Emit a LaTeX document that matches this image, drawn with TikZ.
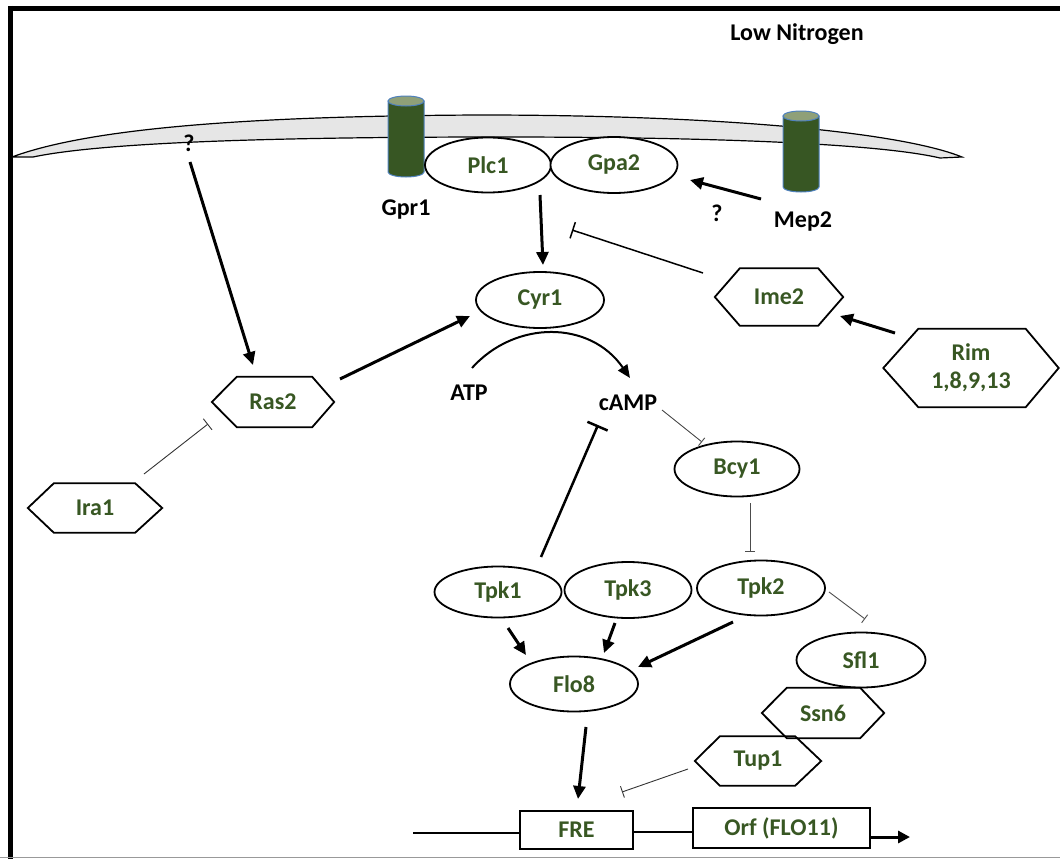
\documentclass[tikz,border=0pt]{standalone}
\usepackage{fontspec}
\setmainfont{Carlito}
\usetikzlibrary{shapes.geometric,arrows.meta,calc}
\definecolor{lbl}{RGB}{56,87,35}
\definecolor{cylg}{RGB}{55,86,35}
\definecolor{cyltop}{RGB}{143,160,120}
\definecolor{cylout}{RGB}{79,129,189}
\definecolor{memb}{RGB}{230,230,230}
\newcommand\hexshape[3]{\draw[hexline] (#1.west) -- ([xshift=#2]#1.north west) -- ([xshift=-#3]#1.north east) -- (#1.east) -- ([xshift=-#3]#1.south east) -- ([xshift=#2]#1.south west) -- cycle;}
\begin{document}
\begin{tikzpicture}[x=1pt,y=-1pt,
  every node/.style={font=\bfseries\fontsize{24}{28}\selectfont},
  prot/.style={ellipse,draw,fill=white,line width=1.8pt,inner sep=0pt,text=lbl},
  hexn/.style={rectangle,inner sep=0pt,text=lbl,align=center},
  box/.style={rectangle,draw,line width=1.8pt,inner sep=0pt,text=lbl},
  txt/.style={text=black,inner sep=0pt},
  act/.style={line width=3pt,-{Triangle[length=13pt,width=12pt]}},
  inh/.style={line width=0.9pt,draw=black!70,-{Bar[width=10pt,line width=0.9pt]}},
  hexline/.style={line width=1.8pt,line join=miter},
  cyl/.style={fill=cylg,draw=cylout,line width=1pt}
]
\useasboundingbox (0,0) rectangle (1060,859);
% frame
\draw[line width=5pt] (8,8.5) -- (1060,8.5);
\draw[line width=4.5pt] (10.5,6) -- (10.5,859);
\draw[black!40,line width=1.5pt] (0,857.5) -- (1060,857.5);
% membrane
\draw[fill=memb,line width=1.2pt] (12,157) .. controls (90,128) and (250,116) .. (480,115) .. controls (720,115) and (900,132) .. (962,157) -- (940,158) .. controls (880,144) and (720,137) .. (500,137) .. controls (260,137) and (100,143) .. (33,157) -- cycle;
% receptors
\draw[cyl] (388,101) -- (388,172) arc[start angle=180,end angle=0,x radius=18,y radius=5] -- (424,101) -- cycle;
\draw[cyl,fill=cyltop] (406,101) ellipse[x radius=18,y radius=5];
\draw[cyl] (783,116) -- (783,187) arc[start angle=180,end angle=0,x radius=18,y radius=5] -- (819,116) -- cycle;
\draw[cyl,fill=cyltop] (801,116) ellipse[x radius=18,y radius=5];
% text labels
\node[txt] (lown) at (797,34) {Low Nitrogen};
\node[txt] (gpr1) at (406,210) {Gpr1};
\node[txt] (mep2) at (803,222) {Mep2};
\node[txt] (q2) at (717,213) {?};
\node[txt] (q1) at (189,143) {?};
\node[txt] (atp) at (469,393) {ATP};
\node[txt] (camp) at (628,403) {cAMP};
% ellipses
\node[prot,minimum width=126pt,minimum height=55pt] (plc1) at (488,165) {Plc1};
\node[prot,minimum width=127pt,minimum height=56pt] (gpa2) at (614,165) {Gpa2};
\node[prot,minimum width=128pt,minimum height=56pt] (cyr1) at (540,300) {Cyr1};
\node[prot,minimum width=125pt,minimum height=55pt] (bcy1) at (737,469) {Bcy1};
\node[prot,minimum width=127pt,minimum height=51pt] (tpk1) at (498,592) {Tpk1};
\node[prot,minimum width=127pt,minimum height=56pt] (tpk3) at (628,590) {Tpk3};
\node[prot,minimum width=128pt,minimum height=55pt] (tpk2) at (761,588) {Tpk2};
\node[prot,minimum width=129pt,minimum height=55pt] (sfl1) at (861,660) {Sfl1};
\node[prot,minimum width=128pt,minimum height=55pt] (flo8) at (574,684) {Flo8};
% hexagons
\node[hexn,minimum width=128pt,minimum height=57pt] (ime2) at (779,297) {Ime2};
\hexshape{ime2}{25pt}{25pt}
\node[hexn,minimum width=175pt,minimum height=78pt] (rim) at (971,368) {Rim\\1,8,9,13};
\hexshape{rim}{35pt}{33pt}
\node[hexn,minimum width=122pt,minimum height=50pt] (ras2) at (273,402) {Ras2};
\hexshape{ras2}{25pt}{22pt}
\node[hexn,minimum width=134pt,minimum height=49pt] (ira1) at (95,508) {Ira1};
\hexshape{ira1}{26pt}{27pt}
\node[hexn,minimum width=122pt,minimum height=50pt] (ssn6) at (823,713) {Ssn6};
\hexshape{ssn6}{25pt}{24pt}
\node[hexn,minimum width=126pt,minimum height=49pt] (tup1) at (758,761) {Tup1};
\hexshape{tup1}{25pt}{26pt}
% DNA
\node[box,minimum width=113pt,minimum height=38pt] (fre) at (576.5,830) {FRE};
\node[box,minimum width=177pt,minimum height=40pt] (orf) at (781.5,828) {Orf (FLO11)};
\coordinate (dnaL) at (413,833);
\coordinate (dnaR) at (910,837);
\draw[line width=1.8pt] (dnaL) -- ([yshift=-3pt]fre.west);
\draw[line width=1.8pt] ([yshift=-2pt]fre.east) -- ([yshift=-4pt]orf.west);
\draw[line width=3pt,-{Triangle[length=12pt,width=12pt]}] ([yshift=-9pt]orf.east) -- (dnaR);
% activations
\draw[act] ($(q1)+(1,19)$) -- ($(ras2)+(-20,-37)$);
\draw[act] ($(ras2)+(67,-23)$) -- ($(cyr1)+(-70,16)$);
\draw[act] ($(plc1)+(52,30)$) -- ($(cyr1)+(3,-35)$);
\draw[act] ($(mep2)+(-42,-23)$) -- ($(gpa2)+(76,15)$);
\draw[act] ($(rim)+(-76,-35)$) -- ($(ime2)+(61,19)$);
\draw[act] ($(tpk1)+(10,36)$) -- ($(flo8)+(-48,-29)$);
\draw[act] ($(tpk3)+(-13,33)$) -- ($(flo8)+(30,-31)$);
\draw[act] ($(tpk2)+(-28,34)$) -- ($(flo8)+(64,-17)$);
\draw[act] ($(flo8)+(12,43)$) -- ($(fre)+(1.5,-31)$);
\draw[line width=2pt,-{Triangle[length=13pt,width=11pt]}] ($(atp)+(3,-25)$) .. controls ($(atp)+(46,-73)$) and ($(camp)+(-38,-83)$) .. ($(camp)+(2,-25)$);
% inhibitions
\draw[line width=1.5pt,-{Bar[width=17pt,line width=1.5pt]}] ($(ime2)+(-76,-24)$) -- ($(gpa2)+(-42,65)$);
\draw[line width=2.5pt,-{Bar[width=22pt,line width=2.5pt]}] ($(tpk1)+(43,-35)$) -- ($(camp)+(-30,22)$);
\draw[inh,draw=black!80,-{Bar[width=14pt,line width=0.9pt]}] ($(ira1)+(49,-34)$) -- ($(ras2)+(-65,22)$);
\draw[inh] ($(camp)+(34,7)$) -- ($(bcy1)+(-35,-27)$);
\draw[inh] ($(bcy1)+(13,34)$) -- ($(tpk2)+(-11,-36)$);
\draw[inh] ($(tpk2)+(68,4)$) -- ($(sfl1)+(4,-41)$);
\draw[inh,draw=black!80,-{Bar[width=12pt,line width=0.9pt]}] ($(tup1)+(-70,8)$) -- ($(fre)+(45.5,-38)$);
\end{tikzpicture}
\end{document}
